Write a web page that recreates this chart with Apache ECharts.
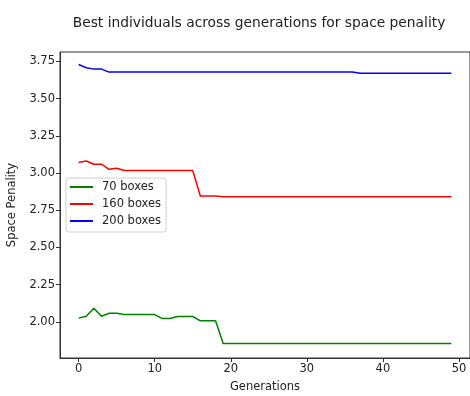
<!DOCTYPE html>
<html><head><meta charset="utf-8">
<script src="https://cdn.jsdelivr.net/npm/echarts@6/dist/echarts.min.js"></script>
<style>html,body{margin:0;padding:0;background:#fff}#c{width:470px;height:396px}</style>
</head><body><div id="c"></div>
<script>
const titleText = 'Best individuals across generations for space penality';
const xName = 'Generations';
const yName = 'Space Penality';
const seriesNames = ['70 boxes', '160 boxes', '200 boxes'];
const seriesColors = ['#008000', '#ff0000', '#0000ff'];
const xTicks = [0, 10, 20, 30, 40, 50];
const yTicks = [2.00, 2.25, 2.50, 2.75, 3.00, 3.25, 3.50, 3.75];
const generations = [0,1,2,3,4,5,6,7,8,9,10,11,12,13,14,15,16,17,18,19,20,21,22,23,24,25,26,27,28,29,30,31,32,33,34,35,36,37,38,39,40,41,42,43,44,45,46,47,48,49];
const boxes70 = [2.025,2.038,2.092,2.038,2.058,2.058,2.049,2.049,2.049,2.049,2.049,2.022,2.022,2.036,2.036,2.036,2.007,2.007,2.007,1.855,1.855,1.855,1.855,1.855,1.855,1.855,1.855,1.855,1.855,1.855,1.855,1.855,1.855,1.855,1.855,1.855,1.855,1.855,1.855,1.855,1.855,1.855,1.855,1.855,1.855,1.855,1.855,1.855,1.855,1.855];
const boxes160 = [3.070,3.081,3.059,3.059,3.025,3.032,3.017,3.017,3.017,3.017,3.017,3.017,3.017,3.017,3.017,3.017,2.845,2.845,2.845,2.840,2.840,2.840,2.840,2.840,2.840,2.840,2.840,2.840,2.840,2.840,2.840,2.840,2.840,2.840,2.840,2.840,2.840,2.840,2.840,2.840,2.840,2.840,2.840,2.840,2.840,2.840,2.840,2.840,2.840,2.840];
const boxes200 = [3.729,3.707,3.698,3.698,3.678,3.678,3.678,3.678,3.678,3.678,3.678,3.678,3.678,3.678,3.678,3.678,3.678,3.678,3.678,3.678,3.678,3.678,3.678,3.678,3.678,3.678,3.678,3.678,3.678,3.678,3.678,3.678,3.678,3.678,3.678,3.678,3.678,3.671,3.671,3.671,3.671,3.671,3.671,3.671,3.671,3.671,3.671,3.671,3.671,3.671];
const allSeries = [boxes70, boxes160, boxes200];

const font = 'DejaVu Sans';
const txt = '#222';
const chart = echarts.init(document.getElementById('c'), null, {renderer: 'canvas'});
chart.setOption({
  animation: false,
  backgroundColor: '#fff',
  title: {
    text: titleText, left: 254, top: 11, textAlign: 'center',
    textStyle: {fontFamily: font, fontSize: 13.8, fontWeight: 'normal', color: txt}
  },
  grid: {left: 60, right: 0, top: 52, bottom: 38, show: true, borderColor: '#333', borderWidth: 1, backgroundColor: 'transparent', outerBoundsMode: 'none', containLabel: false},
  legend: {
    orient: 'vertical', left: 66, top: 178,
    data: seriesNames, icon: 'rect', itemWidth: 23, itemHeight: 2, itemGap: 5,
    padding: [3, 5, 5, 4], backgroundColor: '#fff', borderColor: '#d0d0d0', borderWidth: 1, borderRadius: 3,
    textStyle: {fontFamily: font, fontSize: 11.5, color: txt, padding: [0, 0, 0, 4]}
  },
  xAxis: {
    type: 'value', min: -2.45, max: 51.45,
    name: xName, nameLocation: 'middle', nameGap: 23,
    nameTextStyle: {fontFamily: font, fontSize: 11.5, color: txt},
    axisLine: {show: true, onZero: false, lineStyle: {color: '#333', width: 1}},
    axisTick: {show: true, length: 4, customValues: xTicks, lineStyle: {color: '#333'}},
    axisLabel: {customValues: xTicks, fontFamily: font, fontSize: 11.5, color: txt, margin: 5},
    splitLine: {show: false}
  },
  yAxis: {
    type: 'value', min: 1.757, max: 3.813,
    name: yName, nameLocation: 'middle', nameGap: 39.5,
    nameTextStyle: {fontFamily: font, fontSize: 11.5, color: txt},
    axisLine: {show: true, onZero: false, lineStyle: {color: '#333', width: 1}},
    axisTick: {show: true, length: 4, customValues: yTicks, lineStyle: {color: '#333'}},
    axisLabel: {customValues: yTicks, fontFamily: font, fontSize: 11.5, color: txt, margin: 5, formatter: v => v.toFixed(2)},
    splitLine: {show: false}
  },
  series: seriesNames.map((n, i) => ({
    name: n, type: 'line', showSymbol: false, symbol: 'none',
    data: generations.map((g, k) => [g, allSeries[i][k]]),
    lineStyle: {color: seriesColors[i], width: 1.5},
    itemStyle: {color: seriesColors[i]}
  }))
});
</script></body></html>
